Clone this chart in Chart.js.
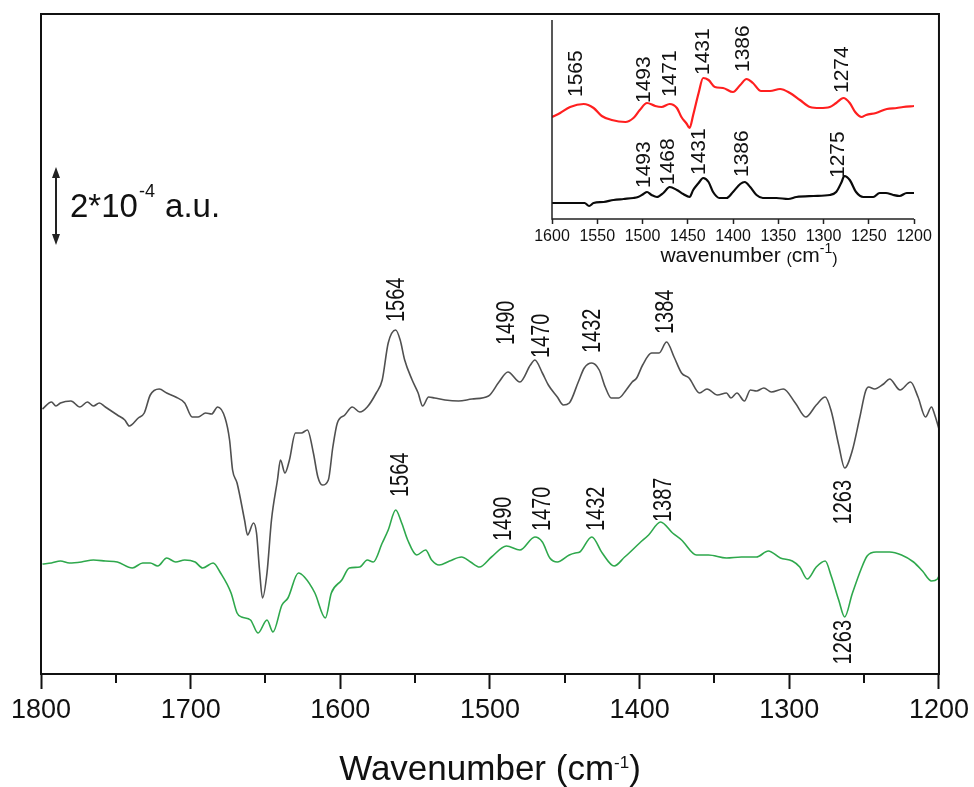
<!DOCTYPE html>
<html>
<head>
<meta charset="utf-8">
<script src="https://cdn.jsdelivr.net/npm/chart.js@4"></script>
<style>
  html, body { margin: 0; padding: 0; background: #fff; }
  #wrap { position: relative; width: 974px; height: 787px; }
  #mainChart { position: absolute; left: 0; top: 0; }
  #insetChart { position: absolute; left: 500px; top: 0; }
</style>
</head>
<body>
<div id="wrap">
  <canvas id="mainChart" width="974" height="787"></canvas>
  <canvas id="insetChart" width="474" height="290"></canvas>
</div>
<script>
// main spectra: wavenumber (cm-1) and stacked difference absorbance (arb. units, 78 units = 2e-4 a.u.)
var grayWn = [1799, 1793, 1790, 1787, 1780, 1774, 1769, 1765, 1761, 1757, 1749, 1744, 1741, 1735, 1731, 1727, 1721, 1716, 1710, 1704,
  1699, 1695, 1690, 1686, 1682, 1677, 1674, 1672, 1669, 1664, 1662, 1658, 1656, 1654, 1652, 1649, 1646, 1642, 1640, 1637,
  1634, 1630, 1626, 1622, 1618, 1615, 1612, 1608, 1605, 1602, 1597, 1592, 1587, 1582, 1576, 1572, 1568, 1563, 1560, 1557,
  1552, 1548, 1545, 1541, 1537, 1530, 1521, 1512, 1501, 1494, 1488, 1480, 1473, 1470, 1465, 1461, 1455, 1451, 1447, 1441,
  1437, 1432, 1427, 1423, 1419, 1414, 1409, 1405, 1402, 1398, 1392, 1387, 1382, 1377, 1372, 1367, 1360, 1355, 1348, 1342,
  1339, 1335, 1330, 1326, 1322, 1317, 1312, 1304, 1296, 1289, 1282, 1276, 1272, 1267, 1263, 1258, 1253, 1249, 1247, 1243,
  1237, 1233, 1226, 1219, 1214, 1209, 1205, 1203, 1200];
var grayAbs = [265, 272, 268, 271, 273, 267, 272, 268, 271, 267, 259, 254, 248, 256, 261, 279, 285, 281, 277, 271,
  257, 257, 261, 260, 267, 256, 234, 204, 191, 154, 139, 151, 141, 104, 76, 101, 154, 194, 214, 201,
  214, 241, 241, 244, 221, 197, 189, 194, 227, 251, 259, 267, 262, 267, 281, 294, 331, 344, 334, 314,
  294, 281, 268, 277, 276, 274, 273, 275, 278, 292, 302, 292, 309, 314, 301, 289, 277, 269, 271, 292,
  306, 311, 304, 287, 276, 276, 284, 292, 296, 309, 321, 321, 332, 317, 301, 296, 281, 285, 279, 281,
  276, 281, 273, 284, 283, 286, 282, 285, 271, 257, 269, 277, 263, 229, 206, 223, 256, 283, 287, 285,
  290, 295, 284, 292, 277, 257, 267, 260, 245];

var greenWn = [1799, 1793, 1787, 1781, 1773, 1765, 1757, 1749, 1739, 1732, 1727, 1722, 1716, 1710, 1704, 1697, 1692, 1685, 1680, 1673,
  1669, 1666, 1660, 1655, 1649, 1645, 1639, 1635, 1628, 1624, 1617, 1610, 1606, 1599, 1594, 1587, 1582, 1578, 1572, 1568,
  1563, 1559, 1555, 1549, 1543, 1539, 1534, 1527, 1519, 1513, 1507, 1499, 1489, 1480, 1470, 1465, 1460, 1455, 1447, 1443,
  1440, 1432, 1425, 1417, 1410, 1407, 1400, 1394, 1386, 1378, 1372, 1362, 1354, 1342, 1332, 1322, 1314, 1306, 1298, 1293,
  1288, 1282, 1276, 1272, 1267, 1263, 1258, 1252, 1248, 1242, 1233, 1225, 1217, 1211, 1205, 1201, 1200];
var greenAbs = [110, 111, 113, 111, 112, 114, 113, 112, 106, 111, 111, 108, 116, 112, 114, 112, 106, 111, 101, 81,
  61, 57, 54, 41, 54, 42, 69, 76, 101, 97, 81, 56, 81, 94, 106, 107, 114, 112, 131, 144,
  164, 151, 134, 119, 124, 114, 109, 113, 117, 112, 107, 117, 128, 124, 137, 132, 116, 112, 119, 121,
  122, 137, 121, 108, 117, 121, 131, 139, 152, 141, 134, 119, 119, 116, 117, 117, 123, 116, 113, 107,
  95, 107, 113, 98, 74, 57, 80, 105, 118, 122, 122, 119, 112, 103, 93, 95, 98];

// inset spectra (arb. units)
var redWn = [1600, 1591, 1580, 1565, 1554, 1545, 1534, 1519, 1510, 1503, 1495, 1486, 1479, 1470, 1462, 1457, 1451, 1448, 1444, 1438,
  1433, 1427, 1420, 1411, 1400, 1392, 1385, 1378, 1369, 1359, 1348, 1337, 1326, 1315, 1304, 1293, 1286, 1278, 1271, 1265,
  1258, 1253, 1242, 1230, 1219, 1212, 1200];
var redAbs = [102, 106, 112, 115, 111, 103, 99, 97, 101, 109, 116, 113, 112, 115, 111, 102, 95, 91, 104, 126,
  141, 139, 132, 131, 127, 134, 140, 136, 128, 128, 130, 126, 119, 112, 111, 112, 116, 121, 116, 107,
  102, 104, 106, 110, 111, 112, 113];

var blackWn = [1600, 1587, 1573, 1564, 1559, 1554, 1543, 1532, 1521, 1510, 1505, 1499, 1495, 1490, 1484, 1477, 1470, 1462, 1455, 1448,
  1444, 1438, 1433, 1427, 1422, 1415, 1407, 1400, 1392, 1387, 1381, 1374, 1367, 1352, 1339, 1330, 1311, 1293, 1286, 1280,
  1277, 1271, 1264, 1256, 1245, 1238, 1231, 1223, 1216, 1208, 1200];
var blackAbs = [16, 16, 16, 16, 13, 16, 17, 19, 20, 21, 22, 25, 27, 24, 22, 26, 32, 29, 25, 22,
  29, 36, 41, 37, 27, 21, 21, 27, 35, 37, 32, 24, 21, 21, 20, 22, 23, 24, 27, 37,
  43, 39, 27, 22, 22, 26, 26, 24, 23, 26, 26];

// tick labels
var mainTicks = [1800, 1700, 1600, 1500, 1400, 1300, 1200];
var mainMinorTicks = [1750, 1650, 1550, 1450, 1350, 1250];
var insetTicks = [1600, 1550, 1500, 1450, 1400, 1350, 1300, 1250, 1200];

// peak labels: text, x position (cm-1), anchor height, above/below
var grayPeaks = [["1564", 1563, 352, 1], ["1490", 1489, 329, 1], ["1470", 1466, 316, 1], ["1432", 1432, 321, 1], ["1384", 1383, 340, 1], ["1263", 1264, 194, -1]];
var greenPeaks = [["1564", 1560, 177, 1], ["1490", 1491, 133, 1], ["1470", 1465, 143, 1], ["1432", 1429, 143, 1], ["1387", 1384, 152, 1], ["1263", 1264, 54, -1]];
var redPeaks = [["1565", 1574, 122, 1], ["1493", 1499, 116, 1], ["1471", 1470, 122, 1], ["1431", 1434, 144, 1], ["1386", 1390, 147, 1], ["1274", 1280, 126, 1]];
var blackPeaks = [["1493", 1499, 31, 1], ["1468", 1473, 34, 1], ["1431", 1438, 44, 1], ["1386", 1391, 42, 1], ["1275", 1285, 41, 1]];

var FONT = "'Liberation Sans', Arial, sans-serif";

function pts(xs, ys) {
  return xs.map(function (x, i) { return { x: x, y: ys[i] }; });
}

function drawParts(ctx, parts, cx, baseY) {
  var total = 0;
  parts.forEach(function (p) {
    ctx.font = p[1] + "px " + FONT;
    p.w = ctx.measureText(p[0]).width;
    total += p.w;
  });
  var x = cx - total / 2;
  ctx.textAlign = "left";
  ctx.textBaseline = "alphabetic";
  parts.forEach(function (p) {
    ctx.font = p[1] + "px " + FONT;
    ctx.fillText(p[0], x, baseY - p[2]);
    x += p.w;
  });
}

function drawPeakLabels(chart, list, size, sx) {
  var ctx = chart.ctx;
  var xs = chart.scales.x, ys = chart.scales.y;
  ctx.fillStyle = "#111";
  ctx.font = size + "px " + FONT;
  ctx.textBaseline = "middle";
  list.forEach(function (l) {
    ctx.save();
    ctx.translate(xs.getPixelForValue(l[1]), ys.getPixelForValue(l[2]));
    ctx.rotate(-Math.PI / 2);
    ctx.scale(sx, 1);
    ctx.textAlign = l[3] > 0 ? "left" : "right";
    ctx.fillText(l[0], 0, 1);
    ctx.restore();
  });
}

var mainDecor = {
  id: "mainDecor",
  afterDraw: function (chart) {
    var ctx = chart.ctx, a = chart.chartArea, xs = chart.scales.x;
    ctx.save();
    ctx.strokeStyle = "#111";
    ctx.lineWidth = 2;
    ctx.strokeRect(a.left, a.top, a.right - a.left, a.bottom - a.top);
    // minor ticks
    mainMinorTicks.forEach(function (v) {
      var x = Math.round(xs.getPixelForValue(v));
      ctx.beginPath();
      ctx.moveTo(x, a.bottom);
      ctx.lineTo(x, a.bottom + 9);
      ctx.stroke();
    });
    drawPeakLabels(chart, grayPeaks, 25, 0.8);
    drawPeakLabels(chart, greenPeaks, 25, 0.8);
    // axis title
    ctx.fillStyle = "#111";
    drawParts(ctx, [["Wavenumber (cm", 35, 0], ["-1", 17, 12], [")", 35, 0]], (a.left + a.right) / 2, 780);
    // scale bar
    var bx = 56, top = 167, bot = 245;
    ctx.strokeStyle = "#222";
    ctx.fillStyle = "#222";
    ctx.lineWidth = 2;
    ctx.beginPath();
    ctx.moveTo(bx, top + 6);
    ctx.lineTo(bx, bot - 6);
    ctx.stroke();
    ctx.beginPath();
    ctx.moveTo(bx, top); ctx.lineTo(bx - 4, top + 11); ctx.lineTo(bx + 4, top + 11); ctx.closePath();
    ctx.fill();
    ctx.beginPath();
    ctx.moveTo(bx, bot); ctx.lineTo(bx - 4, bot - 11); ctx.lineTo(bx + 4, bot - 11); ctx.closePath();
    ctx.fill();
    ctx.fillStyle = "#111";
    ctx.textAlign = "left";
    ctx.textBaseline = "alphabetic";
    ctx.font = "33px " + FONT;
    var t1 = "2*10";
    ctx.fillText(t1, 70, 217);
    var w1 = ctx.measureText(t1).width;
    ctx.font = "18px " + FONT;
    ctx.fillText("-4", 70 + w1 + 1, 197);
    var w2 = ctx.measureText("-4").width;
    ctx.font = "33px " + FONT;
    ctx.fillText(" a.u.", 70 + w1 + w2 + 2, 217);
    ctx.restore();
  }
};

var insetDecor = {
  id: "insetDecor",
  afterDraw: function (chart) {
    var ctx = chart.ctx, a = chart.chartArea;
    ctx.save();
    ctx.strokeStyle = "#222";
    ctx.lineWidth = 1.5;
    ctx.beginPath();
    ctx.moveTo(a.left, a.top);
    ctx.lineTo(a.left, a.bottom);
    ctx.lineTo(a.right, a.bottom);
    ctx.stroke();
    drawPeakLabels(chart, redPeaks, 21, 1);
    drawPeakLabels(chart, blackPeaks, 21, 1);
    ctx.fillStyle = "#111";
    drawParts(ctx, [["wavenumber ", 21, 0], ["(", 16, -2], ["cm", 21, 0], ["-1", 14, 9], [")", 16, -2]], 249, 262);
    ctx.restore();
  }
};

function plainLabel(v) { return String(v); }

new Chart(document.getElementById("mainChart"), {
  type: "line",
  data: {
    datasets: [
      { data: pts(grayWn, grayAbs), borderColor: "#505050", borderWidth: 1.6 },
      { data: pts(greenWn, greenAbs), borderColor: "#2ea84c", borderWidth: 1.6 }
    ]
  },
  options: {
    responsive: false,
    animation: false,
    devicePixelRatio: 1,
    layout: { padding: { left: 41, right: 34, top: 14, bottom: 0 } },
    elements: { point: { radius: 0 }, line: { cubicInterpolationMode: "monotone", borderJoinStyle: "round" } },
    plugins: { legend: { display: false }, tooltip: { enabled: false } },
    scales: {
      x: {
        type: "linear",
        reverse: true,
        min: 1200,
        max: 1800,
        afterBuildTicks: function (s) { s.ticks = mainTicks.map(function (v) { return { value: v }; }); },
        afterFit: function (s) { s.height = 113; },
        border: { display: false },
        grid: { drawOnChartArea: false, tickLength: 15, tickWidth: 2, tickColor: "#111" },
        ticks: { color: "#111", font: { family: FONT, size: 27 }, padding: 5, maxRotation: 0, autoSkip: false, callback: plainLabel }
      },
      y: { display: false, min: 0, max: 660 }
    }
  },
  plugins: [mainDecor]
});

new Chart(document.getElementById("insetChart"), {
  type: "line",
  data: {
    datasets: [
      { data: pts(redWn, redAbs), borderColor: "#ff1f1f", borderWidth: 2.2 },
      { data: pts(blackWn, blackAbs), borderColor: "#0a0a0a", borderWidth: 2.2 }
    ]
  },
  options: {
    responsive: false,
    animation: false,
    devicePixelRatio: 1,
    layout: { padding: { left: 52, right: 60, top: 20, bottom: 0 } },
    elements: { point: { radius: 0 }, line: { cubicInterpolationMode: "monotone", borderJoinStyle: "round" } },
    plugins: { legend: { display: false }, tooltip: { enabled: false } },
    scales: {
      x: {
        type: "linear",
        reverse: true,
        min: 1200,
        max: 1600,
        afterBuildTicks: function (s) { s.ticks = insetTicks.map(function (v) { return { value: v }; }); },
        afterFit: function (s) { s.height = 71; },
        border: { display: false },
        grid: { drawOnChartArea: false, tickLength: 5, tickWidth: 1.5, tickColor: "#222" },
        ticks: { color: "#111", font: { family: FONT, size: 16 }, padding: 3, maxRotation: 0, autoSkip: false, callback: plainLabel }
      },
      y: { display: false, min: 0, max: 199 }
    }
  },
  plugins: [insetDecor]
});
</script>
</body>
</html>
